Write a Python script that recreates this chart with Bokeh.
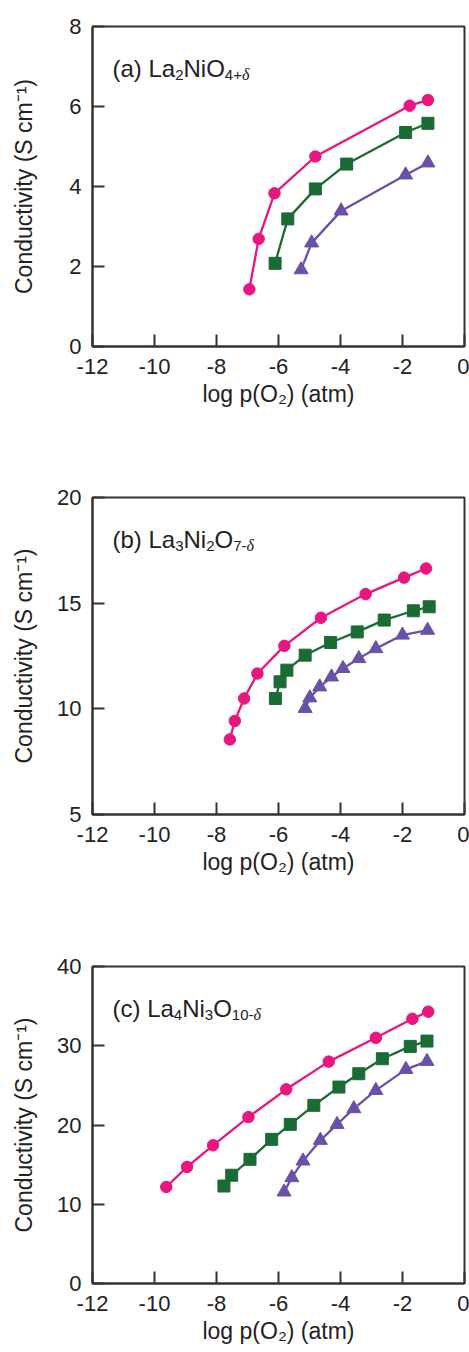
import math

from bokeh.embed import file_html
from bokeh.layouts import column
from bokeh.models import FixedTicker, Label, Range1d
from bokeh.plotting import figure
from bokeh.resources import INLINE

# ---------------------------------------------------------------- data
# log p(O2) (atm) and conductivity (S/cm) for each compound and series

a_pink_x = [-6.94, -6.64, -6.13, -4.81, -1.77, -1.18]
a_pink_y = [1.43, 2.69, 3.83, 4.75, 6.02, 6.16]
a_green_x = [-6.11, -5.70, -4.81, -3.80, -1.90, -1.18]
a_green_y = [2.08, 3.19, 3.94, 4.56, 5.35, 5.58]
a_purple_x = [-5.27, -4.93, -3.98, -1.90, -1.18]
a_purple_y = [1.92, 2.59, 3.39, 4.29, 4.59]

b_pink_x = [-7.57, -7.41, -7.11, -6.68, -5.81, -4.63, -3.19, -1.95, -1.24]
b_pink_y = [8.55, 9.43, 10.49, 11.67, 12.98, 14.31, 15.43, 16.21, 16.64]
b_green_x = [-6.10, -5.95, -5.73, -5.14, -4.32, -3.46, -2.59, -1.65, -1.14]
b_green_y = [10.49, 11.28, 11.83, 12.54, 13.14, 13.64, 14.20, 14.64, 14.83]
b_purple_x = [-5.14, -4.99, -4.67, -4.29, -3.92, -3.41, -2.86, -2.00, -1.19]
b_purple_y = [10.02, 10.52, 11.04, 11.51, 11.91, 12.38, 12.85, 13.49, 13.72]

c_pink_x = [-9.62, -8.95, -8.11, -6.97, -5.75, -4.38, -2.86, -1.68, -1.17]
c_pink_y = [12.18, 14.71, 17.44, 21.0, 24.5, 28.0, 31.0, 33.4, 34.3]
c_green_x = [-7.76, -7.51, -6.92, -6.22, -5.62, -4.86, -4.05, -3.41, -2.65, -1.75, -1.21]
c_green_y = [12.3, 13.66, 15.67, 18.19, 20.08, 22.48, 24.79, 26.47, 28.36, 29.92, 30.59]
c_purple_x = [-5.82, -5.57, -5.21, -4.65, -4.11, -3.57, -2.86, -1.89, -1.21]
c_purple_y = [11.55, 13.36, 15.46, 18.07, 20.08, 22.06, 24.37, 27.02, 28.03]

x_ticks = [-12, -10, -8, -6, -4, -2, 0]
x_tick_labels = ["-12", "-10", "-8", "-6", "-4", "-2", "0"]
a_y_ticks = [0, 2, 4, 6, 8]
b_y_ticks = [5, 10, 15, 20]
c_y_ticks = [0, 10, 20, 30, 40]

x_title = "log p(O\u2082) (atm)"
y_title = "Conductivity (S cm\u207b\u00b9)"

# compound names: plain runs and subscript runs (tuples)
a_name = ["(a) La", ("2",), "NiO", ("4+", "δ")]
b_name = ["(b) La", ("3",), "Ni", ("2",), "O", ("7-", "δ")]
c_name = ["(c) La", ("4",), "Ni", ("3",), "O", ("10-", "δ")]

# ---------------------------------------------------------------- style
FONT = "Liberation Sans"
TXT = "#222222"
AXC = "#333333"
PINK = "#E8177F"
GREEN = "#1B6B34"
PURPLE = "#6A51A8"

TICK_SIZE = 22
LABEL_SIZE = 23
NAME_SIZE = 24
SUB_SIZE = 15

# Helvetica/Arial advance widths (1/1000 em)
ADV = {
    " ": 278, "(": 333, ")": 333, "+": 584, "-": 333,
    "a": 556, "b": 556, "c": 500, "i": 222, "L": 556, "N": 722, "O": 778,
    "δ": 500,
}


def text_width(s, size):
    return sum(ADV.get(ch, 556) for ch in s) / 1000.0 * size


def name_label(p, spec, x, y):
    """Compound formula with subscripts, placed from (x, y) in frame pixels."""
    adv = 0.0
    for part in spec:
        runs = [(part, NAME_SIZE, 0, "normal", FONT)] if isinstance(part, str) else [
            (s, SUB_SIZE + 1, -6, "italic", "Liberation Serif") if s == "δ"
            else (s, SUB_SIZE, -6, "normal", FONT) for s in part
        ]
        for text, size, rise, style, font in runs:
            p.add_layout(Label(
                x=x + adv, y=y + rise, x_units="screen", y_units="screen",
                text=text, text_font=font, text_font_size=f"{size}px",
                text_font_style=style, text_color=TXT,
                text_align="left", text_baseline="alphabetic",
            ))
            adv += text_width(text, size)


FRAME_W = 372


def panel(height, top, bottom, y_lo, y_hi, y_ticks, ylab_standoff, name, series):
    frame_h = height - top - bottom
    p = figure(
        width=469, height=height, x_range=Range1d(-12, 0), y_range=Range1d(y_lo, y_hi),
        output_backend="svg", toolbar_location=None,
        min_border_left=92, min_border_right=469 - 92 - FRAME_W,
        min_border_top=top, min_border_bottom=bottom,
        background_fill_color="white", border_fill_color="white",
        x_axis_label=x_title, y_axis_label=y_title,
    )
    p.grid.visible = False
    p.outline_line_color = AXC
    p.outline_line_width = 2
    p.outline_line_alpha = 1.0

    p.xaxis.ticker = FixedTicker(ticks=x_ticks)
    p.xaxis.major_label_overrides = dict(zip(x_ticks, x_tick_labels))
    p.yaxis.ticker = FixedTicker(ticks=y_ticks)
    p.yaxis.major_label_overrides = {t: str(t) for t in y_ticks}
    for ax in (p.xaxis[0], p.yaxis[0]):
        ax.axis_line_color = AXC
        ax.axis_line_width = 2
        ax.major_tick_line_color = AXC
        ax.major_tick_line_width = 2
        ax.major_tick_in = 12
        ax.major_tick_out = 0
        ax.minor_tick_line_color = None
        ax.major_label_text_font = FONT
        ax.major_label_text_font_size = f"{TICK_SIZE}px"
        ax.major_label_text_color = TXT
        ax.axis_label_text_font = FONT
        ax.axis_label_text_font_size = f"{LABEL_SIZE}px"
        ax.axis_label_text_font_style = "normal"
        ax.axis_label_text_color = TXT
    p.xaxis.major_label_standoff = 12
    p.yaxis.major_label_standoff = 11
    p.xaxis.axis_label_standoff = 4
    p.yaxis.axis_label_standoff = ylab_standoff

    for xs, ys, color, marker, size in series:
        p.line(xs, ys, line_color=color, line_width=2.3)
        p.scatter(xs, ys, marker=marker, size=size, fill_color=color, line_color=color)

    name_label(p, name, 20, frame_h - 42)
    return p


fa = panel(470, 26, 124, 0, 8, a_y_ticks, 29, a_name, [
    (a_pink_x, a_pink_y, PINK, "circle", 11.5),
    (a_green_x, a_green_y, GREEN, "square", 12),
    (a_purple_x, a_purple_y, PURPLE, "triangle", 14),
])
fb = panel(470, 27, 126, 5, 20, b_y_ticks, 17, b_name, [
    (b_pink_x, b_pink_y, PINK, "circle", 11.5),
    (b_green_x, b_green_y, GREEN, "square", 12),
    (b_purple_x, b_purple_y, PURPLE, "triangle", 14),
])
fc = panel(412, 26, 69, 0, 40, c_y_ticks, 17, c_name, [
    (c_pink_x, c_pink_y, PINK, "circle", 11.5),
    (c_green_x, c_green_y, GREEN, "square", 12),
    (c_purple_x, c_purple_y, PURPLE, "triangle", 14),
])

layout = column(fa, fb, fc, spacing=0)
open("out.html", "w").write(file_html(layout, INLINE))
